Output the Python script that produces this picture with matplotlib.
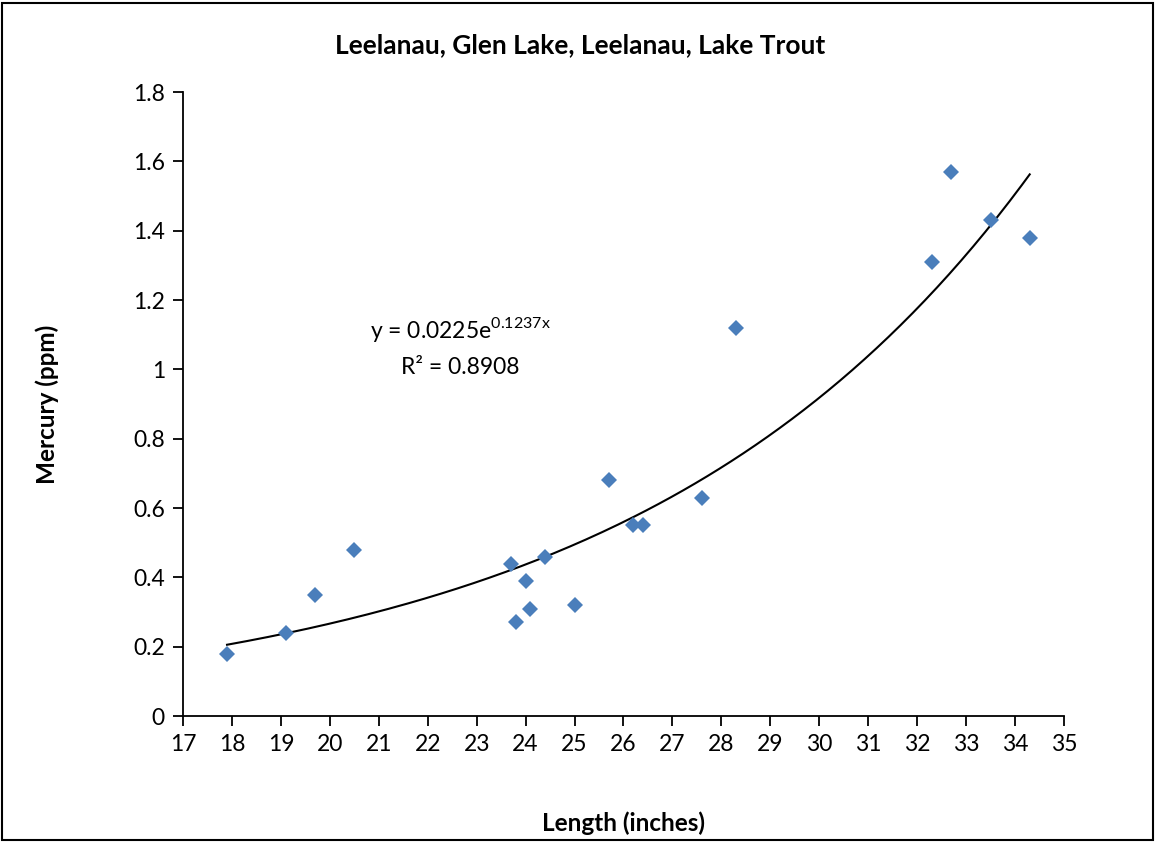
import numpy as np
import matplotlib
matplotlib.use("Agg")
from matplotlib import pyplot as plt
from matplotlib.patches import Rectangle

plt.rcParams['font.family'] = ['Lato', 'DejaVu Sans']

length = [17.9, 19.1, 19.7, 20.5, 23.7, 23.8, 24.0, 24.1, 24.4, 25.0,
          25.7, 26.2, 26.4, 27.6, 28.3, 32.3, 32.7, 33.5, 34.3]
mercury = [0.18, 0.24, 0.35, 0.48, 0.44, 0.27, 0.39, 0.31, 0.46, 0.32,
           0.68, 0.55, 0.55, 0.63, 1.12, 1.31, 1.57, 1.43, 1.38]

title = "Leelanau, Glen Lake, Leelanau, Lake Trout"
xlabel = "Length (inches)"
ylabel = "Mercury (ppm)"

# exponential trendline, same way a spreadsheet does it (linear fit on ln y)
b, ln_a = np.polyfit(length, np.log(mercury), 1)
a = np.exp(ln_a)
xs = np.linspace(min(length), max(length), 200)
ys = a * np.exp(b * xs)

fig = plt.figure(figsize=(11.56, 8.42), dpi=100)
ax = fig.add_axes([0.1583, 0.1496, 0.7621, 0.7411])

ax.plot(xs, ys, color="black", lw=1.5, zorder=2)
ax.plot(length, mercury, "D", color="#4A7EBB", markersize=7.8, markeredgewidth=0, zorder=3)

ax.text(22.66, 1.115, r"y = 0.0225e$^{\mathregular{0.1237x}}$", fontsize=16.5, ha="center", va="center")
ax.text(22.66, 1.005, "R² = 0.8908", fontsize=16.5, ha="center", va="center")

ax.set_xlim(17, 35)
ax.set_ylim(0, 1.8)
ax.set_xticks(range(17, 36))
ax.set_yticks([0, 0.2, 0.4, 0.6, 0.8, 1, 1.2, 1.4, 1.6, 1.8])
ax.set_yticklabels(["0", "0.2", "0.4", "0.6", "0.8", "1", "1.2", "1.4", "1.6", "1.8"])
ax.tick_params(direction="out", length=7, width=1.3, labelsize=16.5, pad=6)
for s in ["top", "right"]:
    ax.spines[s].set_visible(False)
for s in ["left", "bottom"]:
    ax.spines[s].set_linewidth(1.3)

fig.text(0.502, 0.946, title, fontsize=19, fontweight="bold", ha="center", va="center")
fig.text(0.539, 0.022, xlabel, fontsize=17.5, fontweight="bold", ha="center", va="center")
fig.text(0.041, 0.52, ylabel, fontsize=17.5, fontweight="bold", ha="center", va="center", rotation=90)

fig.patches.append(Rectangle((0.002, 0.002), 0.995, 0.995, transform=fig.transFigure,
                             fill=False, edgecolor="black", lw=1.5))

fig.savefig("out.png", dpi=100)
